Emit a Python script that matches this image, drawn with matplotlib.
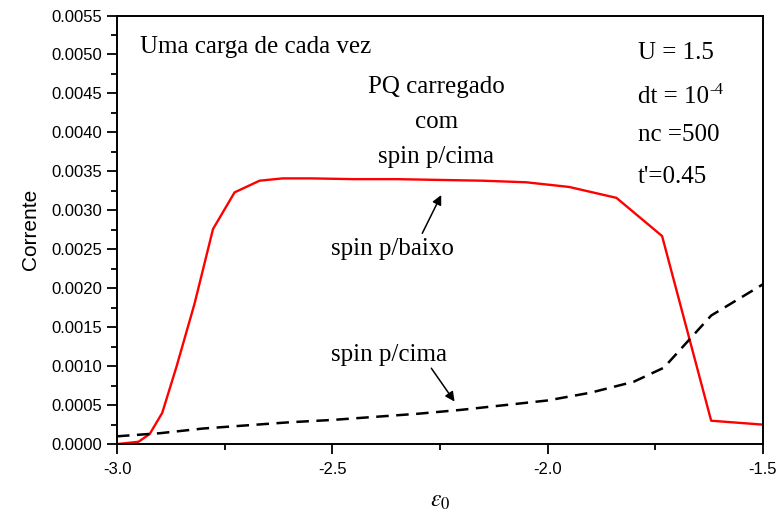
import numpy as np
import matplotlib
matplotlib.use("Agg")
import matplotlib.pyplot as plt
from matplotlib.ticker import MultipleLocator, FormatStrFormatter

# energy level of the dot
eps_down = [-3.0, -2.95, -2.924, -2.895, -2.862, -2.82, -2.777, -2.727, -2.669,
            -2.615, -2.55, -2.45, -2.35, -2.25, -2.15, -2.05, -1.95, -1.84,
            -1.734, -1.62, -1.5]
# current, spin down
cur_down = [0.0, 0.03, 0.13, 0.40, 0.99, 1.80, 2.76, 3.23, 3.38,
            3.41, 3.41, 3.40, 3.40, 3.39, 3.38, 3.36, 3.30, 3.16,
            2.67, 0.30, 0.25]

eps_up = [-3.0, -2.9, -2.8, -2.7, -2.6, -2.5, -2.4, -2.3, -2.2, -2.1, -2.0,
          -1.9, -1.8, -1.73, -1.62, -1.5]
# current, spin up
cur_up = [0.10, 0.14, 0.20, 0.24, 0.28, 0.31, 0.35, 0.39, 0.44, 0.50, 0.56,
          0.66, 0.80, 0.98, 1.65, 2.05]

cur_down = np.array(cur_down) * 1e-3
cur_up = np.array(cur_up) * 1e-3

plt.rcParams['font.family'] = ['Liberation Sans', 'DejaVu Sans']
plt.rcParams['mathtext.fontset'] = 'stix'

fig = plt.figure(figsize=(7.8, 5.17), dpi=100)
ax = fig.add_axes([0.150, 0.141, 0.828, 0.829])

ax.plot(eps_down, cur_down, color='red', lw=1.7)
ax.plot(eps_up, cur_up, color='black', lw=1.8, dashes=(5, 3))

ax.set_xlim(-3.0, -1.5)
ax.set_ylim(0, 0.0055)
ax.xaxis.set_major_locator(MultipleLocator(0.5))
ax.xaxis.set_minor_locator(MultipleLocator(0.25))
ax.yaxis.set_major_locator(MultipleLocator(0.0005))
ax.yaxis.set_minor_locator(MultipleLocator(0.00025))
ax.xaxis.set_major_formatter(FormatStrFormatter('%.1f'))
ax.yaxis.set_major_formatter(FormatStrFormatter('%.4f'))
ax.tick_params(which='major', direction='out', length=7, width=1.3, labelsize=12)
ax.tick_params(which='minor', direction='out', length=4, width=1.3)
ax.tick_params(axis='x', pad=6)
for sp in ax.spines.values():
    sp.set_linewidth(1.4)

ax.set_ylabel('Corrente', fontsize=15, labelpad=8)
ax.set_xlabel(r'$\varepsilon_0$', fontsize=17, labelpad=9)

serif = dict(family='Liberation Serif', fontsize=18)
ax.text(-2.947, 0.005017, 'Uma carga de cada vez', va='baseline', **serif)
ax.text(-1.791, 0.004936, 'U = 1.5', va='baseline', **serif)
dt = ax.text(-1.791, 0.004376, 'dt = 10', va='baseline', **serif)
ax.annotate('-4', xy=(1, 1), xycoords=dt, xytext=(0.5, 3), textcoords='offset points',
            va='top', ha='left', family='Liberation Serif', fontsize=12)
ax.text(-1.791, 0.003892, 'nc =500', va='baseline', **serif)
ax.text(-1.791, 0.003354, "t'=0.45", va='baseline', **serif)

ax.text(-2.258, 0.0045, 'PQ carregado', ha='center', va='baseline', **serif)
ax.text(-2.258, 0.004055, 'com', ha='center', va='baseline', **serif)
ax.text(-2.258, 0.003606, 'spin p/cima', ha='center', va='baseline', **serif)
ax.text(-2.502, 0.002427, 'spin p/baixo', va='baseline', **serif)
ax.text(-2.502, 0.001072, 'spin p/cima', va='baseline', **serif)

arrow = dict(arrowstyle='-|>', color='black', lw=1.1, mutation_scale=14,
             shrinkA=0, shrinkB=0)
ax.annotate('', xy=(-2.247, 0.003196), xytext=(-2.291, 0.002705), arrowprops=arrow)
ax.annotate('', xy=(-2.216, 0.000546), xytext=(-2.270, 0.000974), arrowprops=arrow)

fig.savefig('out.png', dpi=100)
